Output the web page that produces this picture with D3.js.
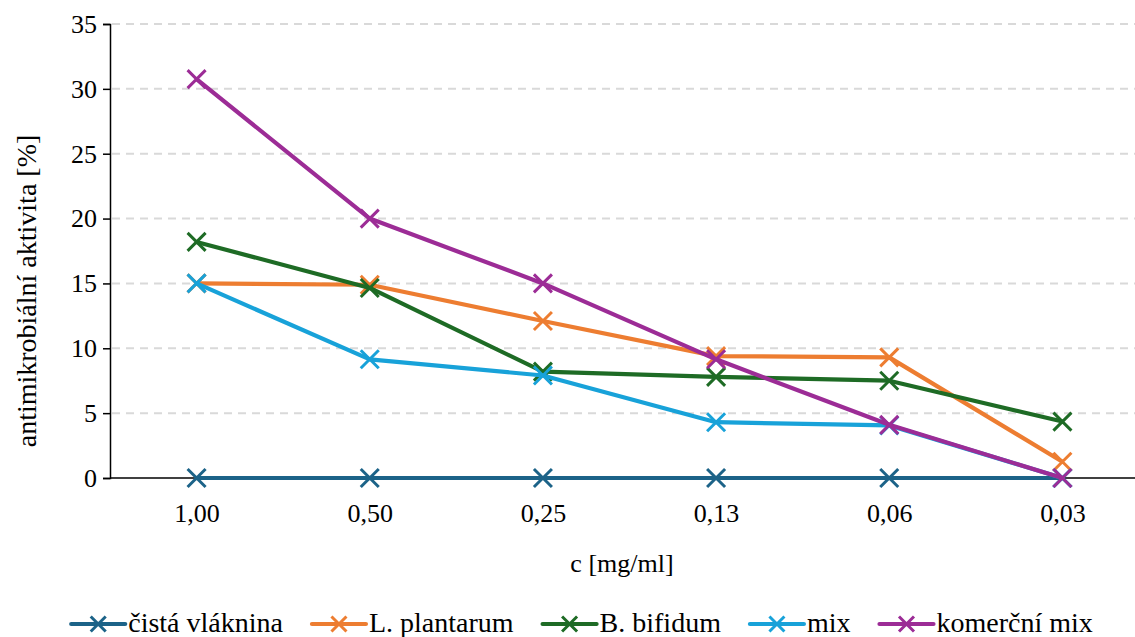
<!DOCTYPE html>
<html>
<head>
<meta charset="utf-8">
<script src="https://cdn.jsdelivr.net/npm/d3@7"></script>
<style>
  html, body { margin: 0; padding: 0; background: #fff; }
  svg text { font-family: "Liberation Serif", "Times New Roman", "DejaVu Serif", serif; fill: #000; }
</style>
</head>
<body>
<svg id="chart" width="1135" height="637"></svg>
<script>
// Concentrations (x categories)
const categories = ["1,00", "0,50", "0,25", "0,13", "0,06", "0,03"];
const yTicks = [0, 5, 10, 15, 20, 25, 30, 35];

// Antimicrobial activity [%] per series
const cistaVlaknina = [0, 0, 0, 0, 0, 0];
const lPlantarum    = [15.0, 14.9, 12.1, 9.4, 9.3, 1.25];
const bBifidum      = [18.2, 14.65, 8.2, 7.8, 7.5, 4.35];
const mix           = [15.0, 9.15, 7.9, 4.3, 4.05, 0];
const komercniMix   = [30.75, 20.0, 15.0, 9.15, 4.1, 0];

const seriesNames  = ["čistá vláknina", "L. plantarum", "B. bifidum", "mix", "komerční mix"];
const seriesValues = [cistaVlaknina, lPlantarum, bBifidum, mix, komercniMix];
const seriesColors = ["#1c6388", "#ed7d31", "#1e6b25", "#18a2d9", "#9c2c96"];

const FS = 26;       // tick labels and x title
const FS_TITLE = 28; // y title and legend
const svg = d3.select("#chart");
const W = 1135;

const x = d3.scalePoint().domain(categories).range([110, 1149]).padding(0.5);
const y = d3.scaleLinear().domain([0, 35]).range([478, 24]);

// Horizontal dashed gridlines
svg.append("g")
  .selectAll("line")
  .data(yTicks.filter(d => d > 0))
  .join("line")
  .attr("x1", 112).attr("x2", W)
  .attr("y1", d => y(d)).attr("y2", d => y(d))
  .attr("stroke", "#d9d9d9")
  .attr("stroke-width", 2)
  .attr("stroke-dasharray", "8,6");

// Y axis
const yAxis = svg.append("g")
  .attr("transform", "translate(110,0)")
  .call(d3.axisLeft(y).tickValues(yTicks).tickSize(7).tickPadding(6).tickFormat(d3.format("d")));
yAxis.attr("font-family", null).attr("font-size", FS);
yAxis.select(".domain").attr("stroke", "#000").attr("stroke-width", 1.5);
yAxis.selectAll(".tick line").attr("stroke", "#000").attr("stroke-width", 1.5);

// X axis (baseline at zero)
const xAxis = svg.append("g")
  .attr("transform", `translate(0,${y(0)})`)
  .call(d3.axisBottom(x).tickSize(0).tickPadding(26));
xAxis.attr("font-family", null).attr("font-size", FS);
xAxis.select(".domain").remove();
xAxis.append("line")
  .attr("x1", 110).attr("x2", W).attr("y1", 0).attr("y2", 0)
  .attr("stroke", "#000").attr("stroke-width", 1.5);

// Axis titles
svg.append("text")
  .attr("transform", `translate(36,${(y(0) + y(35)) / 2 + 40}) rotate(-90)`)
  .attr("text-anchor", "middle")
  .attr("font-size", FS_TITLE)
  .text("antimikrobiální aktivita [%]");

svg.append("text")
  .attr("x", 622).attr("y", 572)
  .attr("text-anchor", "middle")
  .attr("font-size", FS)
  .text("c [mg/ml]");

// X-shaped marker path
function cross(cx, cy, r) {
  return `M${cx - r},${cy - r}L${cx + r},${cy + r}M${cx - r},${cy + r}L${cx + r},${cy - r}`;
}

const line = d3.line()
  .x((d, i) => x(categories[i]))
  .y(d => y(d));

// Series lines and markers
seriesValues.forEach((vals, si) => {
  const g = svg.append("g");
  g.append("path")
    .datum(vals)
    .attr("d", line)
    .attr("fill", "none")
    .attr("stroke", seriesColors[si])
    .attr("stroke-width", 4.2)
    .attr("stroke-linejoin", "round");
  g.selectAll("path.m")
    .data(vals)
    .join("path")
    .attr("class", "m")
    .attr("d", (d, i) => cross(x(categories[i]), y(d), 9))
    .attr("stroke", seriesColors[si])
    .attr("stroke-width", 3)
    .attr("fill", "none");
});

// Legend
const legend = svg.append("g");
let cursor = 0;
seriesNames.forEach((name, si) => {
  const it = legend.append("g");
  it.append("line")
    .attr("x1", 0).attr("x2", 54).attr("y1", 0).attr("y2", 0)
    .attr("stroke", seriesColors[si]).attr("stroke-width", 4.2)
    .attr("stroke-linecap", "round");
  it.append("path")
    .attr("d", cross(27, 0, 7.5))
    .attr("stroke", seriesColors[si]).attr("stroke-width", 3).attr("fill", "none");
  const t = it.append("text")
    .attr("x", 57).attr("y", 8)
    .attr("font-size", FS_TITLE)
    .text(name);
  const w = 57 + t.node().getComputedTextLength();
  it.attr("transform", `translate(${cursor},0)`);
  cursor += w + 29;
});
const totalW = cursor - 29;
legend.attr("transform", `translate(${582 - totalW / 2},624)`);
</script>
</body>
</html>
